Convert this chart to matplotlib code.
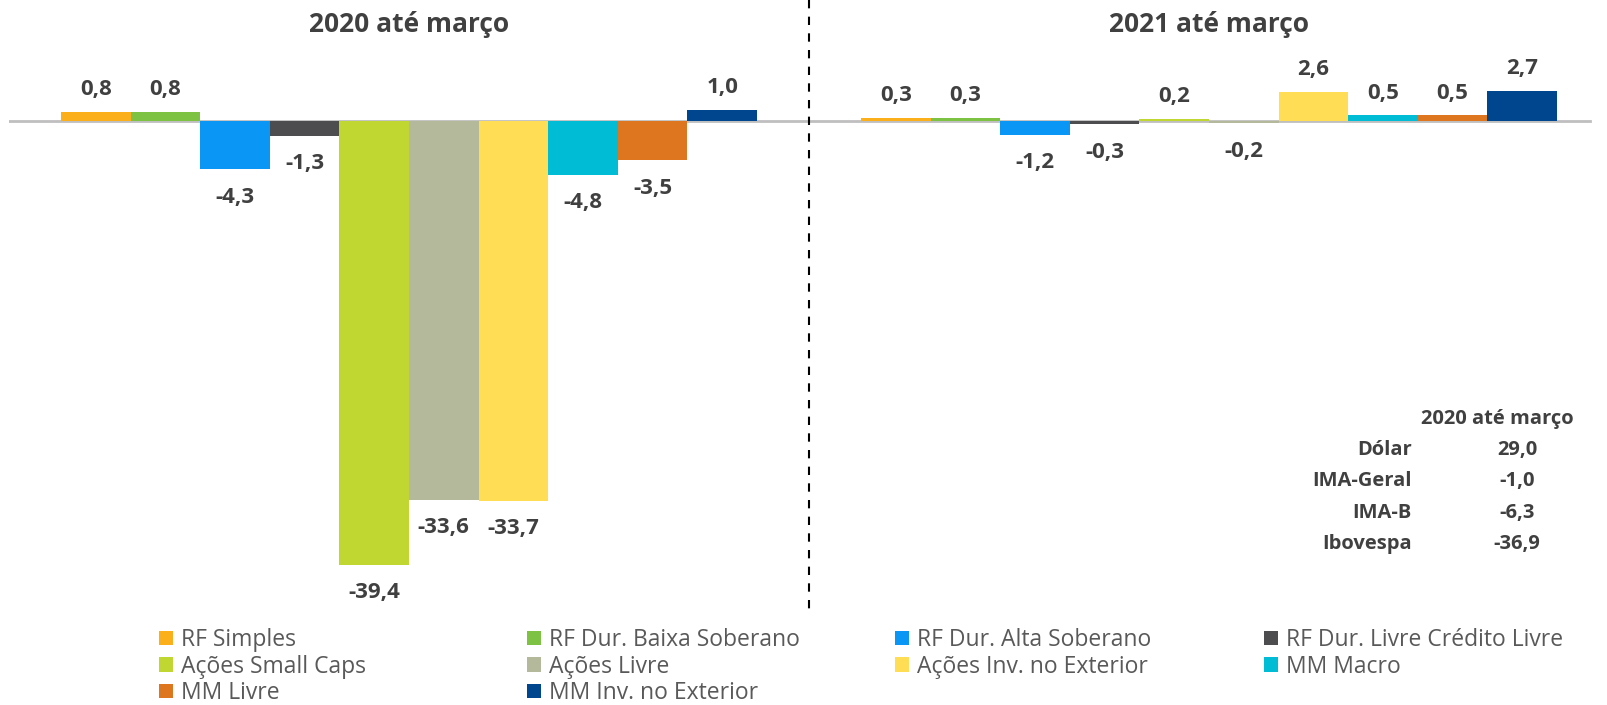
import matplotlib
matplotlib.use("Agg")
import matplotlib.pyplot as plt
import numpy as np

plt.rcParams['font.family'] = ['Open Sans', 'DejaVu Sans']

periods = ["2020 até março", "2021 até março"]
series = ["RF Simples", "RF Dur. Baixa Soberano", "RF Dur. Alta Soberano",
          "RF Dur. Livre Crédito Livre", "Ações Small Caps", "Ações Livre",
          "Ações Inv. no Exterior", "MM Macro", "MM Livre", "MM Inv. no Exterior"]
values_2020 = [0.8, 0.8, -4.3, -1.3, -39.4, -33.6, -33.7, -4.8, -3.5, 1.0]
values_2021 = [0.3, 0.3, -1.2, -0.3, 0.2, -0.2, 2.6, 0.5, 0.5, 2.7]
colors = ["#FBB01B", "#7DC242", "#0A96F5", "#4D4D4F", "#C0D731",
          "#B5B99C", "#FFDD55", "#00BCD4", "#DD761E", "#00468F"]

table_title = "2020 até março"
table_names = ["Dólar", "IMA-Geral", "IMA-B", "Ibovespa"]
table_values = [29.0, -1.0, -6.3, -36.9]

W, H = 1608, 705
fig = plt.figure(figsize=(W / 100, H / 100), dpi=100)
ax_left, ax_right = 9, 1609
ax = fig.add_axes([ax_left / W, 0, (ax_right - ax_left) / W, 1])
for s in ax.spines.values():
    s.set_visible(False)
ax.set_xticks([]); ax.set_yticks([])

zero_px = 121
px_per_unit = 11.27
ax.set_ylim(-(H - zero_px) / px_per_unit, zero_px / px_per_unit)
ax.set_xlim(-0.5, 1.5)

txt = "#404040"
leg_txt = "#595959"
ax.axhline(0, xmax=(1590 - ax_left) / (ax_right - ax_left),
           color="#BFBFBF", lw=2, zorder=1)

x = np.arange(len(periods))
n = len(series)
bw = 0.087
bars = []
for i, name in enumerate(series):
    vals = [values_2020[i], values_2021[i]]
    off = (i - (n - 1) / 2) * bw
    b = ax.bar(x + off, vals, width=bw, color=colors[i], label=name, zorder=2)
    bars.append(b)
    for xi, v in zip(x + off, vals):
        dy = 16 if v >= 0 else -20
        ax.annotate(f"{v:.1f}".replace(".", ","), (xi, v), xytext=(0, dy),
                    textcoords="offset points", ha="center", va="center",
                    fontsize=16, fontweight="bold", color=txt)

# titles
for xi, p in zip(x, periods):
    ax.text(xi, (zero_px - 24) / px_per_unit, p, ha="center", va="center",
            fontsize=19, fontweight="bold", color=txt)

# divider
ax.plot([0.5, 0.5], [zero_px / px_per_unit, -(613 - zero_px) / px_per_unit],
        ls=(0, (4, 4)), color="black", lw=1.5, zorder=3)

# table
def fy(py):
    return 1 - py / H
fig.text(1497 / W, fy(419), table_title, ha="center", va="center",
         fontsize=14.5, fontweight="bold", color=txt)
for k, (nm, v) in enumerate(zip(table_names, table_values)):
    yy = 450 + k * 31.3
    fig.text(1412 / W, fy(yy), nm, ha="right", va="center",
             fontsize=14.5, fontweight="bold", color=txt)
    fig.text(1517 / W, fy(yy), f"{v:.1f}".replace(".", ","), ha="center",
             va="center", fontsize=14.5, fontweight="bold", color=txt)

# legend, row-major in 4 columns
col_x = [159, 527, 895, 1264]
for c in range(4):
    idx = [c + 4 * r for r in range(3) if c + 4 * r < n]
    fig.legend([bars[j] for j in idx], [series[j] for j in idx],
               loc="upper left", bbox_to_anchor=(col_x[c] / W, fy(628)),
               frameon=False, ncol=1, fontsize=16.5, borderpad=0,
               borderaxespad=0, handlelength=0.61, handleheight=0.61,
               handletextpad=0.35, labelspacing=0.11, labelcolor=leg_txt)

fig.savefig("out.png", dpi=100, facecolor="white")
